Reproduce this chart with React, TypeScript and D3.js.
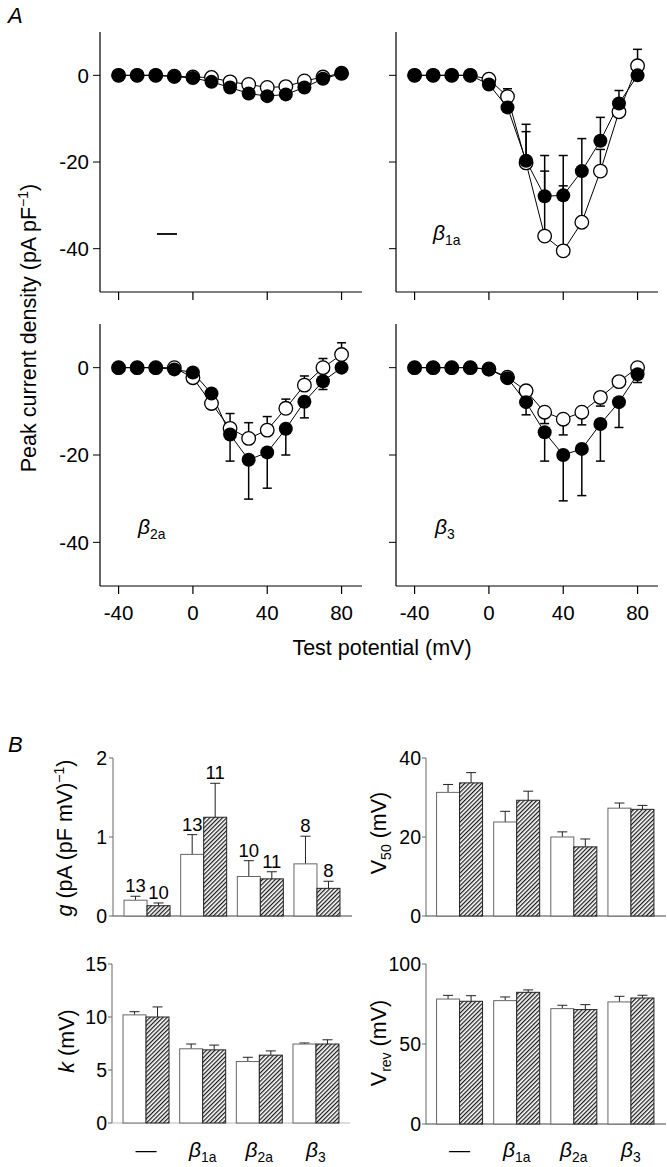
import * as React from 'react';
import * as d3 from 'd3';

const FONT = '"Liberation Sans", Arial, Helvetica, sans-serif';

// ---- Panel A: I–V curves ----
const potentials = [-40, -30, -20, -10, 0, 10, 20, 30, 40, 50, 60, 70, 80];
const ivXTicks = [-40, 0, 40, 80];
const ivYTicks = [0, -20, -40];

// control (no beta)
const ctrlClosed = [0, 0, 0, -0.3, -0.6, -1.5, -2.8, -4.2, -4.8, -4.4, -2.8, -0.8, 0.4];
const ctrlClosedErr = [0, 0, 0, 0, 0, 0, 0, 0, 0, 0, 0, 0, 0];
const ctrlOpen = [0, 0, 0, -0.2, -0.4, -0.5, -1.5, -2.1, -2.8, -2.6, -1.3, -0.4, 0.5];
const ctrlOpenErr = [0, 0, 0, 0, 0, 0, 0, 0, 0, 0, 0, 0, 0];

// beta 1a
const b1aClosed = [0, 0, 0, 0, -2.1, -7.4, -19.7, -27.9, -27.7, -22.1, -15.1, -6.5, 0];
const b1aClosedErr = [0, 0, 0, 0, 0, 4.3, 8.4, 9.4, 9.2, 7.5, 5.4, 3.0, 0];
const b1aOpen = [0, 0, 0, 0, -0.9, -4.9, -20.2, -37.1, -40.5, -33.9, -22.1, -8.4, 2.2];
const b1aOpenErr = [0, 0, 0, 0, 0, 0, 7.2, 15, 15, 11, 5, 2, 3.8];

// beta 2a
const b2aClosed = [0, 0, 0, -0.4, -1.1, -5.9, -15.3, -21.1, -19.4, -14.0, -7.8, -3.1, 0];
const b2aClosedErr = [0, 0, 0, 0, 0, 0, -6.1, -9.0, -8.2, -6.0, -3.7, -1.9, 0];
const b2aOpen = [0, 0, 0, 0, -2.3, -8.2, -13.9, -16.2, -14.3, -9.3, -4.0, 0, 3.0];
const b2aOpenErr = [0, 0, 0, 0, 0, 0, 3.4, 3.6, 3.1, 2.1, 2.1, 2.1, 2.7];

// beta 3
const b3Closed = [0, 0, 0, 0, -0.4, -2.4, -7.9, -14.8, -20.0, -18.6, -12.9, -7.9, -1.5];
const b3ClosedErr = [0, 0, 0, 0, 0, 0, -2.9, -6.6, -10.5, -10.7, -8.5, -5.8, -1.9];
const b3Open = [0, 0, 0, 0, -0.3, -2.2, -5.3, -10.2, -11.8, -10.2, -6.8, -3.2, 0];
const b3OpenErr = [0, 0, 0, 0, 0, 0, 0, -2.6, -3.6, -2.9, -2.0, 0, 0];

// ---- Panel B: bar charts ----
const categories = ['—', 'β1a', 'β2a', 'β3'];

const gOpen = [0.2, 0.78, 0.5, 0.66];
const gOpenErr = [0.05, 0.25, 0.2, 0.35];
const gHatch = [0.13, 1.25, 0.47, 0.35];
const gHatchErr = [0.035, 0.43, 0.09, 0.09];
const gOpenN = ['13', '13', '10', '8'];
const gHatchN = ['10', '11', '11', '8'];

const v50Open = [31.3, 23.8, 20.0, 27.3];
const v50OpenErr = [2.0, 2.7, 1.3, 1.3];
const v50Hatch = [33.7, 29.3, 17.5, 27.0];
const v50HatchErr = [2.6, 2.3, 2.0, 1.0];

const kOpen = [10.2, 7.0, 5.8, 7.45];
const kOpenErr = [0.3, 0.45, 0.4, 0.1];
const kHatch = [10.0, 6.9, 6.4, 7.45];
const kHatchErr = [0.95, 0.45, 0.4, 0.4];

const vrevOpen = [78.1, 77.1, 72.1, 76.3];
const vrevOpenErr = [2.3, 2.3, 2.1, 3.5];
const vrevHatch = [76.7, 82.3, 71.5, 78.75];
const vrevHatchErr = [3.5, 1.5, 3.1, 1.7];

const Beta = ({ sub, size = 21 }: { sub: string; size?: number }) => (
  <>
    <tspan fontStyle="italic">β</tspan>
    <tspan fontSize={size * 0.66} dy={size * 0.22}>
      {sub}
    </tspan>
  </>
);

interface IVProps {
  x0: number;
  x1: number;
  yTop: number;
  yBot: number;
  closed: number[];
  closedErr: number[];
  open: number[];
  openErr: number[];
  yLabels: boolean;
  xLabels: boolean;
  children?: React.ReactNode;
}

const IVPanel = ({ x0, x1, yTop, yBot, closed, closedErr, open, openErr, yLabels, xLabels, children }: IVProps) => {
  const x = d3.scaleLinear().domain([-50, 91]).range([x0, x1]);
  const y = d3.scaleLinear().domain([-50, 10]).range([yBot, yTop]);
  const line = d3
    .line<number>()
    .x((_, i) => x(potentials[i]))
    .y((d) => y(d));

  const errBars = (vals: number[], errs: number[], key: string) =>
    vals.map((v, i) =>
      errs[i] === 0 ? null : (
        <g key={key + i} stroke="#000" strokeWidth={1.5}>
          <line x1={x(potentials[i])} x2={x(potentials[i])} y1={y(v)} y2={y(v + errs[i])} />
          <line x1={x(potentials[i]) - 4.5} x2={x(potentials[i]) + 4.5} y1={y(v + errs[i])} y2={y(v + errs[i])} />
        </g>
      )
    );

  return (
    <g>
      {/* axes */}
      <line x1={x0} x2={x0} y1={yTop} y2={yBot} stroke="#000" strokeWidth={1.2} />
      <line x1={x0} x2={x1} y1={yBot} y2={yBot} stroke="#000" strokeWidth={1.2} />
      {ivYTicks.map((t) => (
        <g key={'yt' + t}>
          <line x1={x0 - 7} x2={x0} y1={y(t)} y2={y(t)} stroke="#000" strokeWidth={1} />
          {yLabels && (
            <text x={x0 - 11} y={y(t)} dy="0.36em" textAnchor="end" fontSize={20.5}>
              {t}
            </text>
          )}
        </g>
      ))}
      {ivXTicks.map((t) => (
        <g key={'xt' + t}>
          <line x1={x(t)} x2={x(t)} y1={yBot} y2={yBot + 8} stroke="#000" strokeWidth={1.2} />
          {xLabels && (
            <text x={x(t)} y={yBot + 34} textAnchor="middle" fontSize={20.5}>
              {t}
            </text>
          )}
        </g>
      ))}
      {errBars(open, openErr, 'oe')}
      {errBars(closed, closedErr, 'ce')}
      <path d={line(open) ?? ''} fill="none" stroke="#000" strokeWidth={1} />
      <path d={line(closed) ?? ''} fill="none" stroke="#000" strokeWidth={1} />
      {open.map((v, i) => (
        <circle key={'o' + i} cx={x(potentials[i])} cy={y(v)} r={6.8} fill="#fff" stroke="#000" strokeWidth={1.3} />
      ))}
      {closed.map((v, i) => (
        <circle key={'c' + i} cx={x(potentials[i])} cy={y(v)} r={7} fill="#000" />
      ))}
      {children}
    </g>
  );
};

interface BarProps {
  axisX: number;
  r0: number;
  r1: number;
  endX: number;
  yBase: number;
  yTop: number;
  max: number;
  ticks: number[];
  labelX: number;
  open: number[];
  openErr: number[];
  hatch: number[];
  hatchErr: number[];
  openN?: string[];
  hatchN?: string[];
  catLabels: boolean;
  baseColor?: string;
}

const BarPanel = (p: BarProps) => {
  const band = d3.scaleBand<string>().domain(categories).range([p.r0, p.r1]);
  const y = d3.scaleLinear().domain([0, p.max]).range([p.yBase, p.yTop]);
  const bw = 23;
  const cx = (c: string) => (band(c) ?? 0) + band.bandwidth() / 2;

  const err = (xc: number, v: number, e: number, key: string) => (
    <g key={key} stroke="#222" strokeWidth={1}>
      <line x1={xc} x2={xc} y1={y(v)} y2={y(v + e)} />
      <line x1={xc - 5} x2={xc + 5} y1={y(v + e)} y2={y(v + e)} />
    </g>
  );

  return (
    <g>
      <line x1={p.axisX} x2={p.axisX} y1={p.yTop} y2={p.yBase} stroke="#666" strokeWidth={1} />
      <line x1={p.axisX} x2={p.endX} y1={p.yBase} y2={p.yBase} stroke={p.baseColor ?? '#444'} strokeWidth={1.1} />
      {p.ticks.map((t) => (
        <g key={'t' + t}>
          <line x1={p.axisX - 4} x2={p.axisX} y1={y(t)} y2={y(t)} stroke="#666" />
          <text x={p.labelX} y={y(t)} dy="0.36em" textAnchor="end" fontSize={19.5}>
            {t}
          </text>
        </g>
      ))}
      {categories.map((c, i) => {
        const xc = cx(c);
        return (
          <g key={c}>
            {err(xc - bw / 2, p.open[i], p.openErr[i], 'oe' + i)}
            {err(xc + bw / 2, p.hatch[i], p.hatchErr[i], 'he' + i)}
            <rect
              x={xc - bw}
              y={y(p.open[i])}
              width={bw}
              height={p.yBase - y(p.open[i])}
              fill="#fff"
              stroke="#666"
              strokeWidth={1}
            />
            <rect
              x={xc}
              y={y(p.hatch[i])}
              width={bw}
              height={p.yBase - y(p.hatch[i])}
              fill="url(#hatch)"
              stroke="#222"
              strokeWidth={1}
            />
            {p.openN && (
              <text x={xc - bw / 2} y={y(p.open[i] + p.openErr[i]) - 4} textAnchor="middle" fontSize={18.5}>
                {p.openN[i]}
              </text>
            )}
            {p.hatchN && (
              <text x={xc + bw / 2} y={y(p.hatch[i] + p.hatchErr[i]) - 4} textAnchor="middle" fontSize={18.5}>
                {p.hatchN[i]}
              </text>
            )}
            {p.catLabels && (
              <text x={xc} y={1157} textAnchor="middle" fontSize={21}>
                {c === '—' ? '—' : <Beta sub={c.slice(1)} />}
              </text>
            )}
          </g>
        );
      })}
    </g>
  );
};

const App = () => {
  return (
    <svg
      width={667}
      height={1167}
      style={{ position: 'absolute', left: 0, top: 0, background: '#fff' }}
      fontFamily={FONT}
    >
      <defs>
        <pattern id="hatch" width={3} height={3} patternUnits="userSpaceOnUse" patternTransform="rotate(45)">
          <rect width={3} height={3} fill="#fff" />
          <line x1={0.6} y1={0} x2={0.6} y2={3} stroke="#1a1a1a" strokeWidth={1.3} />
        </pattern>
      </defs>
      <rect width={667} height={1167} fill="#fff" />

      {/* Panel A */}
      <text x={8} y={23} fontSize={22} fontStyle="italic">
        A
      </text>
      <IVPanel
        x0={100}
        x1={362}
        yTop={32}
        yBot={292}
        closed={ctrlClosed}
        closedErr={ctrlClosedErr}
        open={ctrlOpen}
        openErr={ctrlOpenErr}
        yLabels
        xLabels={false}
      >
        <line x1={157} x2={177} y1={234} y2={234} stroke="#000" strokeWidth={1.8} />
      </IVPanel>
      <IVPanel
        x0={396}
        x1={658}
        yTop={32}
        yBot={292}
        closed={b1aClosed}
        closedErr={b1aClosedErr}
        open={b1aOpen}
        openErr={b1aOpenErr}
        yLabels={false}
        xLabels={false}
      >
        <text x={433} y={240} fontSize={21}>
          <Beta sub="1a" />
        </text>
      </IVPanel>
      <IVPanel
        x0={100}
        x1={362}
        yTop={324}
        yBot={586}
        closed={b2aClosed}
        closedErr={b2aClosedErr}
        open={b2aOpen}
        openErr={b2aOpenErr}
        yLabels
        xLabels
      >
        <text x={138} y={534} fontSize={21}>
          <Beta sub="2a" />
        </text>
      </IVPanel>
      <IVPanel
        x0={396}
        x1={658}
        yTop={324}
        yBot={586}
        closed={b3Closed}
        closedErr={b3ClosedErr}
        open={b3Open}
        openErr={b3OpenErr}
        yLabels={false}
        xLabels
      >
        <text x={435} y={534} fontSize={21}>
          <Beta sub="3" />
        </text>
      </IVPanel>
      <text x={382} y={655} textAnchor="middle" fontSize={21.5}>
        Test potential (mV)
      </text>
      <text transform="translate(36,328) rotate(-90)" textAnchor="middle" fontSize={21.5}>
        Peak current density (pA pF
        <tspan fontSize={14} dy={-8}>
          −1
        </tspan>
        <tspan dy={8}>)</tspan>
      </text>

      {/* Panel B */}
      <text x={8} y={752} fontSize={22} fontStyle="italic">
        B
      </text>
      <BarPanel
        axisX={113}
        r0={118.7}
        r1={345.3}
        endX={352}
        yBase={916}
        yTop={758}
        max={2}
        ticks={[0, 1, 2]}
        labelX={107}
        open={gOpen}
        openErr={gOpenErr}
        hatch={gHatch}
        hatchErr={gHatchErr}
        openN={gOpenN}
        hatchN={gHatchN}
        catLabels={false}
      />
      <BarPanel
        axisX={426}
        r0={431}
        r1={659.5}
        endX={666}
        yBase={916}
        yTop={758}
        max={40}
        ticks={[0, 20, 40]}
        labelX={421}
        open={v50Open}
        openErr={v50OpenErr}
        hatch={v50Hatch}
        hatchErr={v50HatchErr}
        catLabels={false}
      />
      <BarPanel
        axisX={112}
        r0={117.7}
        r1={344.3}
        endX={350}
        yBase={1123}
        yTop={964}
        max={15}
        ticks={[0, 5, 10, 15]}
        labelX={107}
        open={kOpen}
        openErr={kOpenErr}
        hatch={kHatch}
        hatchErr={kHatchErr}
        catLabels
        baseColor="#bbb"
      />
      <BarPanel
        axisX={426}
        r0={431}
        r1={659.5}
        endX={666}
        yBase={1124}
        yTop={964}
        max={100}
        ticks={[0, 50, 100]}
        labelX={421}
        open={vrevOpen}
        openErr={vrevOpenErr}
        hatch={vrevHatch}
        hatchErr={vrevHatchErr}
        catLabels
      />

      {/* B axis titles */}
      <text transform="translate(72,838) rotate(-90)" textAnchor="middle" fontSize={21.5}>
        <tspan fontStyle="italic">g</tspan> (pA (pF mV)
        <tspan fontSize={14} dy={-8}>
          −1
        </tspan>
        <tspan dy={8}>)</tspan>
      </text>
      <text transform="translate(386,833) rotate(-90)" textAnchor="middle" fontSize={21.5}>
        V
        <tspan fontSize={14} dy={5}>
          50
        </tspan>
        <tspan dy={-5}> (mV)</tspan>
      </text>
      <text transform="translate(74,1041) rotate(-90)" textAnchor="middle" fontSize={21.5}>
        <tspan fontStyle="italic">k</tspan> (mV)
      </text>
      <text transform="translate(386,1043) rotate(-90)" textAnchor="middle" fontSize={21.5}>
        V
        <tspan fontSize={14} dy={5}>
          rev
        </tspan>
        <tspan dy={-5}> (mV)</tspan>
      </text>
    </svg>
  );
};

export default App;
